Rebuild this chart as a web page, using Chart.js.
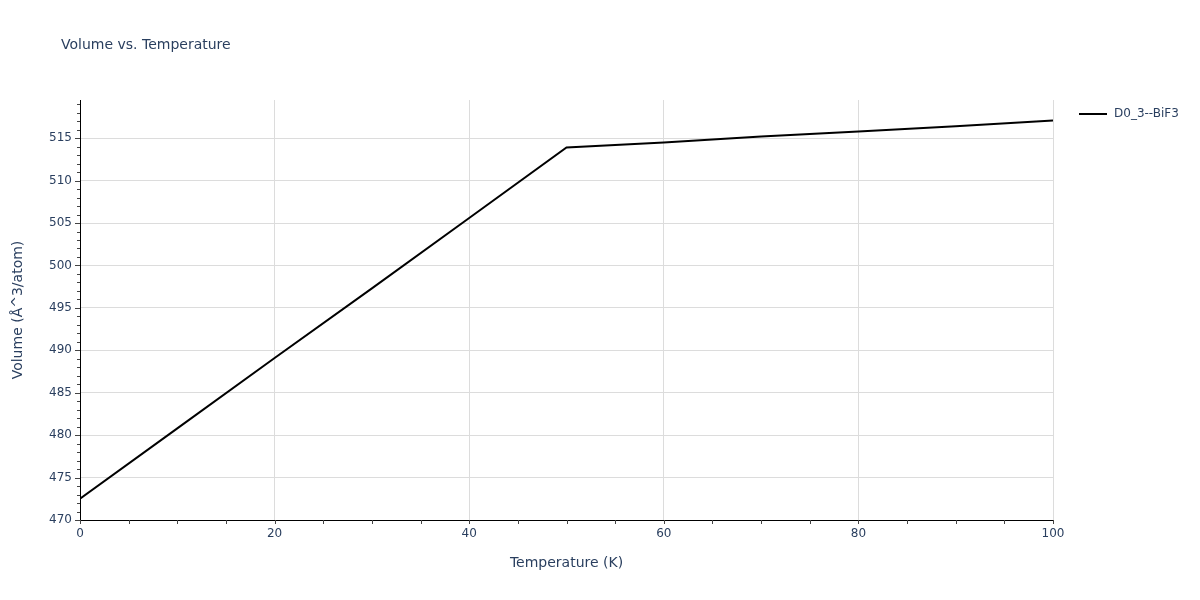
<!DOCTYPE html>
<html>
<head>
<meta charset="utf-8">
<script src="https://cdn.jsdelivr.net/npm/chart.js@4.4.1/dist/chart.umd.min.js"></script>
<style>
  html, body { margin: 0; padding: 0; background: #fff; }
  #wrap { width: 1200px; height: 600px; }
</style>
</head>
<body>
<div id="wrap"><canvas id="myChart"></canvas></div>
<script>
// data
const temperature = [0, 10, 20, 30, 40, 50, 60, 70, 80, 90, 100];
const volume = [472.5, 480.8, 489.1, 497.3, 505.6, 513.9, 514.5, 515.2, 515.8, 516.4, 517.07];
const seriesName = 'D0_3--BiF3';
const xTicks = [0, 20, 40, 60, 80, 100];
const yTicks = [470, 475, 480, 485, 490, 495, 500, 505, 510, 515];

const fontFam = '"DejaVu Sans", verdana, arial, sans-serif';
const textColor = '#2a3f5f';

// minor ticks, title and legend
const extras = {
   id: 'extras',
   afterDraw(chart) {
      const ctx = chart.ctx;
      const xs = chart.scales.x, ys = chart.scales.y;
      const area = chart.chartArea;
      ctx.save();
      ctx.strokeStyle = '#444';
      ctx.lineWidth = 1;
      // y ticks
      for (let v = 470; v <= 519; v++) {
         const py = Math.round(ys.getPixelForValue(v)) + 0.5;
         const len = (v % 5 === 0) ? 5 : 3;
         ctx.beginPath();
         ctx.moveTo(area.left, py);
         ctx.lineTo(area.left - len, py);
         ctx.stroke();
      }
      // x ticks
      for (let v = 0; v <= 100; v += 5) {
         const px = Math.round(xs.getPixelForValue(v)) + 0.5;
         ctx.beginPath();
         ctx.moveTo(px, area.bottom);
         ctx.lineTo(px, area.bottom + 4);
         ctx.stroke();
      }
      // title
      ctx.fillStyle = textColor;
      ctx.font = '14px ' + fontFam;
      ctx.textAlign = 'left';
      ctx.textBaseline = 'middle';
      ctx.fillText('Volume vs. Temperature', 61, 45);
      // legend
      ctx.strokeStyle = '#000';
      ctx.lineWidth = 2;
      ctx.beginPath();
      ctx.moveTo(1079, 114);
      ctx.lineTo(1107, 114);
      ctx.stroke();
      ctx.font = '12px ' + fontFam;
      ctx.fillText(chart.data.datasets[0].label, 1114, 114);
      ctx.restore();
   }
};

const ctx = document.getElementById('myChart').getContext('2d');
const myChart = new Chart(ctx, {
   type: 'line',
   data: {
      datasets: [{
         label: seriesName,
         data: temperature.map((t, i) => ({x: t, y: volume[i]})),
         borderColor: '#000',
         backgroundColor: '#000',
         borderWidth: 2,
         pointRadius: 0,
         tension: 0
      }]
   },
   options: {
      responsive: true,
      maintainAspectRatio: false,
      animation: false,
      layout: { padding: { top: 100, right: 147, left: 0, bottom: 0 } },
      plugins: {
         legend: { display: false },
         title: { display: false },
         tooltip: { enabled: false }
      },
      scales: {
         x: {
            type: 'linear',
            min: 0,
            max: 100,
            afterFit: function(scale) { scale.height = 80; },
            afterBuildTicks: function(scale) { scale.ticks = xTicks.map(v => ({value: v})); },
            ticks: { color: textColor, font: { family: fontFam, size: 12 }, padding: 7, maxRotation: 0 },
            grid: { color: '#dcdcdc', drawTicks: false, lineWidth: 1 },
            border: { display: true, color: '#000', width: 1 },
            title: { display: true, text: 'Temperature (K)', color: textColor, font: { family: fontFam, size: 14 }, padding: { bottom: 28 } }
         },
         y: {
            type: 'linear',
            min: 470,
            max: 519.5,
            afterFit: function(scale) { scale.width = 80; },
            afterBuildTicks: function(scale) { scale.ticks = yTicks.map(v => ({value: v})); },
            ticks: { color: textColor, font: { family: fontFam, size: 12 }, padding: 8 },
            grid: { color: '#dcdcdc', drawTicks: false, lineWidth: 1 },
            border: { display: true, color: '#000', width: 1 },
            title: { display: true, text: 'Volume (Å^3/atom)', color: textColor, font: { family: fontFam, size: 14 }, padding: { top: 10 } }
         }
      }
   },
   plugins: [extras]
});
</script>
</body>
</html>
